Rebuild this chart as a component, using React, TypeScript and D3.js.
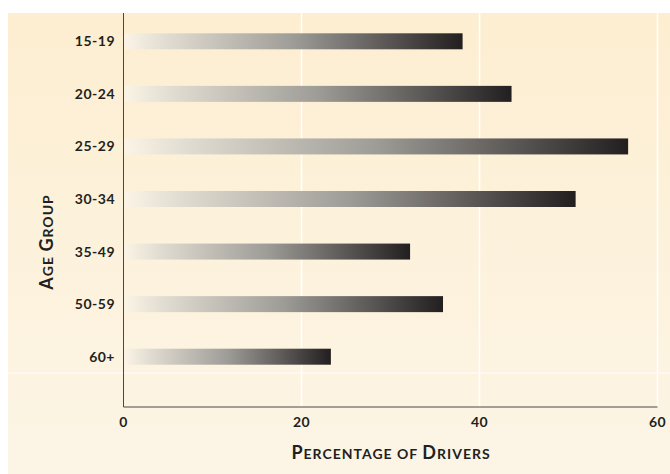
import React from "react";
import * as d3 from "d3";

const categories = ["15-19", "20-24", "25-29", "30-34", "35-49", "50-59", "60+"];
const values = [38.1, 43.6, 56.7, 50.8, 32.2, 35.9, 23.3];
const xTicks = [0, 20, 40, 60];

const W = 670;
const H = 474;
const FONT = "Lato, 'Open Sans', sans-serif";
const INK = "#231F20";

function SmallCaps({ text, big, small, ...rest }: any) {
  const words = text.split(" ");
  const parts: any[] = [];
  words.forEach((w: string, wi: number) => {
    if (wi > 0) parts.push(<tspan key={"s" + wi} fontSize={small}>{" "}</tspan>);
    const isCap = w[0] === w[0].toUpperCase();
    if (isCap) {
      parts.push(<tspan key={"b" + wi} fontSize={big}>{w[0]}</tspan>);
      if (w.length > 1) parts.push(<tspan key={"r" + wi} fontSize={small}>{w.slice(1).toUpperCase()}</tspan>);
    } else {
      parts.push(<tspan key={"r" + wi} fontSize={small}>{w.toUpperCase()}</tspan>);
    }
  });
  return <text {...rest}>{parts}</text>;
}

export default function App() {
  const x = d3.scaleLinear().domain([0, 60]).range([123.5, 657.5]);
  const y = d3.scalePoint<string>().domain(categories).range([41.3, 356.7]);
  const barH = 16;
  const axisY = 407;
  const top = 13;

  return (
    <svg width={W} height={H} style={{ position: "absolute", left: 0, top: 0 }}>
      <defs>
        <linearGradient id="bg" x1="0" y1="0" x2="0" y2="1">
          <stop offset="0" stopColor="#FDEED1" />
          <stop offset="1" stopColor="#FCF5E6" />
        </linearGradient>
        <linearGradient id="bar" x1="0" y1="0" x2="1" y2="0">
          <stop offset="0" stopColor="#FBF4E6" />
          <stop offset="0.12" stopColor="#E2DDD2" />
          <stop offset="0.5" stopColor="#9E9C97" />
          <stop offset="1" stopColor="#231F20" />
        </linearGradient>
      </defs>
      <rect x={8} y={top} width={W - 8} height={H - top} fill="url(#bg)" />
      {xTicks.filter((t) => t > 0).map((t) => (
        <line key={t} x1={x(t)} x2={x(t)} y1={top} y2={axisY} stroke="#FFFFFF" strokeWidth={1.5} />
      ))}
      <line x1={8} x2={W} y1={373} y2={373} stroke="#FFFFFF" strokeWidth={1.2} />
      {categories.map((c, i) => (
        <rect
          key={c}
          x={x(0) + 1}
          y={(y(c) as number) - barH / 2}
          width={x(values[i]) - x(0) - 1}
          height={barH}
          fill="url(#bar)"
        />
      ))}
      <line x1={x(0)} x2={x(0)} y1={top} y2={axisY} stroke="#4A4646" strokeWidth={1} />
      <line x1={x(0)} x2={x(60)} y1={axisY} y2={axisY} stroke="#4A4646" strokeWidth={1} />
      {categories.map((c) => (
        <text
          key={c}
          x={115}
          y={y(c) as number}
          dy="0.36em"
          textAnchor="end"
          fontFamily={FONT}
          fontWeight={700}
          fontSize={14}
          letterSpacing={0.5}
          fill={INK}
        >
          {c}
        </text>
      ))}
      {xTicks.map((t) => (
        <text
          key={t}
          x={x(t)}
          y={427}
          textAnchor="middle"
          fontFamily={FONT}
          fontWeight={700}
          fontSize={14}
          letterSpacing={0.5}
          fill={INK}
        >
          {t}
        </text>
      ))}
      <SmallCaps
        text="Percentage of Drivers"
        big={18}
        small={14}
        x={391}
        y={459}
        textAnchor="middle"
        fontFamily={FONT}
        fontWeight={700}
        letterSpacing={1}
        fill={INK}
      />
      <SmallCaps
        text="Age Group"
        big={18}
        small={14}
        transform="translate(53,242) rotate(-90)"
        textAnchor="middle"
        fontFamily={FONT}
        fontWeight={700}
        letterSpacing={1}
        fill={INK}
      />
    </svg>
  );
}
